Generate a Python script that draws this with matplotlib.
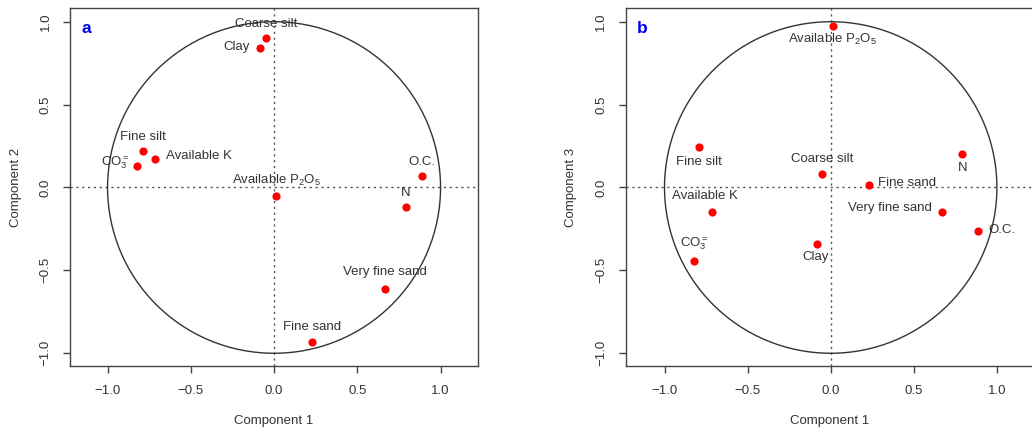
import matplotlib
matplotlib.use("Agg")
import matplotlib.pyplot as plt
from matplotlib.patches import Circle

plt.rcParams['font.family'] = ['Liberation Sans', 'DejaVu Sans']
plt.rcParams['mathtext.fontset'] = 'custom'
plt.rcParams['mathtext.rm'] = 'Liberation Sans'
plt.rcParams['mathtext.it'] = 'Liberation Sans'

variables = ['Coarse silt', 'Clay', 'Fine silt', 'Available K', r'CO$_3^{=}$',
             'O.C.', r'Available P$_2$O$_5$', 'N', 'Very fine sand', 'Fine sand']
comp1 = [-0.050, -0.085, -0.790, -0.713, -0.823, 0.889, 0.012, 0.792, 0.669, 0.228]
comp2 = [0.900, 0.840, 0.220, 0.171, 0.130, 0.070, -0.054, -0.116, -0.610, -0.934]
comp3 = [0.084, -0.339, 0.243, -0.148, -0.443, -0.261, 0.974, 0.200, -0.148, 0.016]

tick_vals = [-1.0, -0.5, 0.0, 0.5, 1.0]
tick_labels = ['\u22121.0', '\u22120.5', '0.0', '0.5', '1.0']

# label placement (offset in px, ha)
place_a = [((0, 14.4), 'center'), ((-10, 1.6), 'right'), ((0, 14.3), 'center'),
           ((10.4, 3.6), 'left'), ((-7.7, 3.7), 'right'), ((0, 14), 'center'),
           ((0, 15.7), 'center'), ((0, 14), 'center'), ((0, 16.2), 'center'),
           ((0, 15), 'center')]
place_b = [((0, 14.7), 'center'), ((-1, -13.3), 'center'), ((0, -14.4), 'center'),
           ((-7.6, 16.3), 'center'), ((0.7, 17), 'center'), ((9.6, 0.3), 'left'),
           ((0, -13.3), 'center'), ((0, -14), 'center'), ((-10.3, 4), 'right'),
           ((9.6, 1.7), 'left')]

W, H = 1032, 437
fig = plt.figure(figsize=(W / 100, H / 100), dpi=100)

txt_col = '#333333'
PX = 0.72


def make_panel(left_px, xlim, ylim, yvals, place, ylabel, tag):
    ax = fig.add_axes([left_px / W, (H - 365.7) / H, 408 / W, (365.7 - 8.3) / H])
    ax.set_xlim(*xlim)
    ax.set_ylim(*ylim)
    for s in ax.spines.values():
        s.set_color('#444444')
        s.set_linewidth(1.0)
    ax.axhline(0, color='#555555', lw=1.0, ls=(0, (1.6, 2.6)), zorder=1)
    ax.axvline(0, color='#555555', lw=1.0, ls=(0, (1.6, 2.6)), zorder=1)
    ax.add_patch(Circle((0, 0), 1.0, fill=False, ec='#333333', lw=1.0, zorder=2))
    ax.plot(comp1, yvals, 'o', color='#ff0000', ms=5.9, mec='none', zorder=3)
    for x, y, lab, ((dx, dy), ha) in zip(comp1, yvals, variables, place):
        ax.annotate(lab, (x, y), xytext=(dx * PX, dy * PX), textcoords='offset points',
                    ha=ha, va='center', fontsize=9.5, color=txt_col, zorder=4)
    ax.set_xticks(tick_vals)
    ax.set_xticklabels(tick_labels)
    ax.set_yticks(tick_vals)
    ax.set_yticklabels(tick_labels, rotation=90, va='center')
    ax.tick_params(axis='both', direction='out', length=5.2, width=1.0,
                   color='#444444', labelsize=9.5, labelcolor=txt_col)
    ax.tick_params(axis='x', pad=9)
    ax.tick_params(axis='y', pad=8)
    ax.set_xlabel('Component 1', fontsize=9.5, color=txt_col, labelpad=13)
    ax.set_ylabel(ylabel, fontsize=9.5, color=txt_col, labelpad=13)
    ax.text(0.041, 0.944, tag, transform=ax.transAxes, ha='center', va='center',
            fontsize=12.5, fontweight='bold', color='#0000ee')
    return ax


make_panel(70, (-1.2256, 1.2250), (-1.075, 1.081), comp2, place_a, 'Component 2', 'a')
make_panel(625.7, (-1.2335, 1.2214), (-1.075, 1.081), comp3, place_b, 'Component 3', 'b')

fig.savefig('out.png', dpi=100)
